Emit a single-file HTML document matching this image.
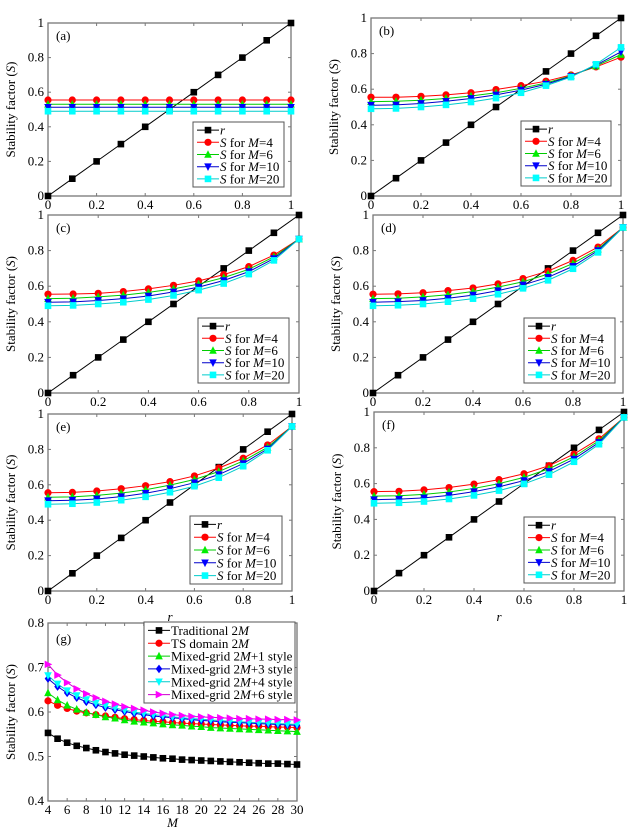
<!DOCTYPE html>
<html><head><meta charset="utf-8"><style>
body{margin:0;background:#fff;}
svg{display:block;font-family:"Liberation Serif",serif;}
</style></head><body>
<svg id="fig" width="635" height="833" viewBox="0 0 635 833" xmlns="http://www.w3.org/2000/svg"></svg>
<script>
const rVals=[0,0.1,0.2,0.3,0.4,0.5,0.6,0.7,0.8,0.9,1];
const aM4=[.555,.555,.555,.555,.555,.555,.555,.555,.555,.555,.555];
const aM6=[.53,.53,.53,.53,.53,.53,.53,.53,.53,.53,.53];
const aM10=[.513,.513,.513,.513,.513,.513,.513,.513,.513,.513,.513];
const aM20=[.49,.49,.49,.49,.49,.49,.49,.49,.49,.49,.49];
const bM4=[.555,.555,.56,.568,.58,.598,.62,.645,.68,.725,.78];
const bM6=[.53,.532,.538,.548,.562,.58,.605,.635,.675,.73,.795];
const bM10=[.51,.512,.52,.532,.548,.568,.595,.628,.672,.735,.81];
const bM20=[.49,.492,.5,.512,.528,.55,.58,.62,.668,.74,.835];
const cM4=[.555,.556,.56,.57,.585,.605,.63,.665,.71,.775,.865];
const cM6=[.53,.532,.54,.55,.565,.585,.612,.648,.695,.765,.865];
const cM10=[.51,.512,.52,.53,.545,.568,.595,.632,.682,.755,.865];
const cM20=[.49,.492,.5,.51,.525,.548,.578,.615,.668,.745,.865];
const dM4=[.555,.557,.563,.575,.59,.613,.643,.685,.745,.82,.93];
const dM6=[.53,.532,.54,.552,.57,.595,.625,.668,.728,.808,.93];
const dM10=[.51,.513,.52,.532,.55,.575,.607,.65,.712,.8,.93];
const dM20=[.49,.493,.5,.513,.53,.555,.588,.633,.698,.79,.93];
const eM4=[.555,.557,.565,.578,.595,.618,.65,.695,.75,.825,.93];
const eM6=[.53,.532,.54,.553,.572,.598,.63,.675,.735,.812,.93];
const eM10=[.51,.513,.52,.533,.552,.578,.612,.658,.72,.803,.93];
const eM20=[.49,.493,.5,.513,.532,.558,.592,.64,.705,.795,.93];
const fM4=[.555,.557,.565,.578,.597,.622,.655,.7,.765,.85,.97];
const fM6=[.53,.532,.54,.553,.573,.6,.635,.683,.75,.84,.97];
const fM10=[.51,.513,.52,.534,.555,.582,.617,.668,.737,.83,.97];
const fM20=[.49,.493,.5,.514,.534,.561,.598,.65,.722,.82,.97];
const xTicks=[0,0.2,0.4,0.6,0.8,1];
const yTicks=[0,0.2,0.4,0.6,0.8,1];
const gM=[4,5,6,7,8,9,10,11,12,13,14,15,16,17,18,19,20,21,22,23,24,25,26,27,28,29,30];
const gTrad=[.553,.54,.531,.524,.519,.514,.51,.507,.504,.502,.5,.498,.496,.495,.493,.492,.491,.49,.489,.488,.487,.486,.485,.484,.484,.483,.482];
const gTS=[.625,.615,.608,.602,.598,.594,.591,.588,.585,.583,.581,.579,.578,.576,.575,.574,.573,.572,.571,.57,.569,.568,.568,.567,.566,.566,.565];
const gP1=[.643,.627,.615,.606,.599,.594,.589,.586,.582,.579,.577,.575,.573,.571,.57,.568,.567,.565,.564,.563,.562,.561,.56,.559,.558,.557,.556];
const gP3=[.675,.657,.643,.632,.623,.616,.61,.605,.601,.597,.594,.591,.589,.587,.585,.583,.581,.58,.578,.577,.576,.575,.574,.573,.572,.571,.57];
const gP4=[.682,.663,.648,.637,.628,.62,.614,.609,.604,.6,.597,.594,.592,.589,.587,.585,.584,.582,.581,.579,.578,.577,.576,.575,.574,.573,.572];
const gP6=[.707,.683,.666,.652,.641,.632,.624,.618,.612,.608,.604,.6,.597,.594,.592,.59,.589,.588,.587,.586,.585,.585,.584,.584,.583,.583,.582];
const gXTicks=[4,6,8,10,12,14,16,18,20,22,24,26,28,30];
const gYTicks=[0.4,0.5,0.6,0.7,0.8];

const NS="http://www.w3.org/2000/svg";
const svg=document.getElementById('fig');
function mk(tag,attrs,parent){const e=document.createElementNS(NS,tag);for(const k in attrs)e.setAttribute(k,attrs[k]);(parent||svg).appendChild(e);return e;}
const COL={k:'#000',r:'#f00',g:'#0e0',b:'#00f',c:'#0ff',m:'#f0f'};
const SCOL={k:'#000',r:'#f00',g:'#0c0',b:'#00c',c:'#0cc',m:'#c0c'};
function marker(g,type,x,y,c){
  const s=3.3;let e;
  if(type==='s')e=mk('rect',{x:x-s,y:y-s,width:2*s,height:2*s,fill:c},g);
  else if(type==='o')e=mk('circle',{cx:x,cy:y,r:s+0.3,fill:c},g);
  else if(type==='^')e=mk('polygon',{points:`${x},${y-s-1} ${x-s-0.5},${y+s} ${x+s+0.5},${y+s}`,fill:c},g);
  else if(type==='v')e=mk('polygon',{points:`${x},${y+s+1} ${x-s-0.5},${y-s} ${x+s+0.5},${y-s}`,fill:c},g);
  else if(type==='d')e=mk('polygon',{points:`${x},${y-s-1} ${x+s},${y} ${x},${y+s+1} ${x-s},${y}`,fill:c},g);
  else if(type==='>')e=mk('polygon',{points:`${x+s+1},${y} ${x-s},${y-s-0.5} ${x-s},${y+s+0.5}`,fill:c},g);
  
  
}
function series(g,xs,ys,sx,sy,col,type,name){
  const sg=mk('g',{},g);
  
  
  mk('polyline',{points:xs.map((v,i)=>sx(v)+','+sy(ys[i])).join(' '),fill:'none',stroke:SCOL[col],'stroke-width':1},sg);
  xs.forEach((v,i)=>marker(sg,type,sx(v),sy(ys[i]),COL[col]));
}
function axes(g,L,R,T,B,sx,sy,xt,yt,xfmt,yfmt,name){
  const ag=mk('g',{},g);
  
  
  mk('rect',{x:L,y:T,width:R-L,height:B-T,fill:'none',stroke:'#777','stroke-width':1.3},ag);
  xt.forEach(v=>{const x=sx(v);
    mk('line',{x1:x,y1:B,x2:x,y2:B-3,stroke:'#777'},ag);mk('line',{x1:x,y1:T,x2:x,y2:T+3,stroke:'#777'},ag);
    const t=mk('text',{x:x,y:B+13,'text-anchor':'middle','font-size':13},ag);t.textContent=xfmt(v);
    });
  yt.forEach(v=>{const y=sy(v);
    mk('line',{x1:L,y1:y,x2:L+3,y2:y,stroke:'#777'},ag);mk('line',{x1:R,y1:y,x2:R-3,y2:y,stroke:'#777'},ag);
    const t=mk('text',{x:L-4,y:y+4,'text-anchor':'end','font-size':13},ag);t.textContent=yfmt(v);
    });
}
function ylabel(g,x,y){
  const t=mk('text',{x:x,y:y,'text-anchor':'middle','font-size':13,transform:`rotate(-90 ${x} ${y})`},g);
  t.innerHTML='Stability factor (<tspan font-style="italic">S</tspan>)';
  
}
function legend(g,x0,y0,w,h,items){
  const lg=mk('g',{},g);
  
  
  mk('rect',{x:x0,y:y0,width:w,height:h,fill:'#fff',stroke:'#555','stroke-width':1},lg);
  const step=(h-4)/items.length;
  items.forEach((it,i)=>{
    const y=y0+2+step*(i+0.5);
    const eg=mk('g',{},lg);
    
    
    mk('line',{x1:x0+4,y1:y,x2:x0+26,y2:y,stroke:SCOL[it[0]]},eg);
    marker(eg,it[1],x0+15,y,COL[it[0]]);
    const t=mk('text',{x:x0+27,y:y+4.5,'font-size':13},eg);t.innerHTML=it[2];
  });
}
const fmt=v=>(v===0?'0':v===1?'1':String(v));
const items=[['k','s','<tspan font-style="italic">r</tspan>'],['r','o','<tspan font-style="italic">S</tspan> for <tspan font-style="italic">M</tspan>=4'],['g','^','<tspan font-style="italic">S</tspan> for <tspan font-style="italic">M</tspan>=6'],['b','v','<tspan font-style="italic">S</tspan> for <tspan font-style="italic">M</tspan>=10'],['c','s','<tspan font-style="italic">S</tspan> for <tspan font-style="italic">M</tspan>=20']];
const panels=[
 {id:'a',L:48,R:291,T:23,B:196,d:[aM4,aM6,aM10,aM20],lg:[193,122,91,65],rl:false},
 {id:'b',L:371,R:621,T:18,B:196,d:[bM4,bM6,bM10,bM20],lg:[521,121,90,65],rl:false},
 {id:'c',L:48,R:299,T:215,B:393,d:[cM4,cM6,cM10,cM20],lg:[198,318,91,65],rl:false},
 {id:'d',L:373,R:623,T:215,B:393,d:[dM4,dM6,dM10,dM20],lg:[524,318,91,65],rl:false},
 {id:'e',L:48,R:292,T:414,B:591,d:[eM4,eM6,eM10,eM20],lg:[190,516,92,68],rl:true},
 {id:'f',L:374,R:624,T:412,B:591,d:[fM4,fM6,fM10,fM20],lg:[524,517,91,66],rl:true}
];
panels.forEach(p=>{
  const g=mk('g',{});
  
  
  const sx=v=>p.L+(p.R-p.L)*v, sy=v=>p.B-(p.B-p.T)*v;
  axes(g,p.L,p.R,p.T,p.B,sx,sy,xTicks,yTicks,fmt,fmt,'panel-'+p.id);
  ylabel(g,p.L-33,(p.T+p.B)/2);
  const lb=mk('text',{x:p.L+8,y:p.T+17,'font-size':13},g);lb.textContent='('+p.id+')';
  
  series(g,rVals,rVals,sx,sy,'k','s','series-r');
  series(g,rVals,p.d[0],sx,sy,'r','o','series-m4');
  series(g,rVals,p.d[1],sx,sy,'g','^','series-m6');
  series(g,rVals,p.d[2],sx,sy,'b','v','series-m10');
  series(g,rVals,p.d[3],sx,sy,'c','s','series-m20');
  legend(g,p.lg[0],p.lg[1],p.lg[2],p.lg[3],items);
  if(p.rl){const t=mk('text',{x:(p.L+p.R)/2,y:p.B+30,'text-anchor':'middle','font-size':13,'font-style':'italic'},g);t.textContent='r';
    }
});
// panel g
(function(){
  const L=48,R=297,T=623,B=801;
  const g=mk('g',{});
  
  
  const sx=v=>L+(R-L)*(v-4)/26, sy=v=>B-(B-T)*(v-0.4)/0.4;
  axes(g,L,R,T,B,sx,sy,gXTicks,gYTicks,v=>String(v),v=>String(v),'panel-g');
  ylabel(g,15,(T+B)/2);
  const lb=mk('text',{x:L+8,y:T+20,'font-size':13},g);lb.textContent='(g)';
  
  series(g,gM,gTrad,sx,sy,'k','s','series-traditional');
  series(g,gM,gTS,sx,sy,'r','o','series-ts-domain');
  series(g,gM,gP1,sx,sy,'g','^','series-mixed-2m1');
  series(g,gM,gP3,sx,sy,'b','d','series-mixed-2m3');
  series(g,gM,gP4,sx,sy,'c','v','series-mixed-2m4');
  series(g,gM,gP6,sx,sy,'m','>','series-mixed-2m6');
  const M='<tspan font-style="italic">M</tspan>';
  legend(g,144,622,151,81,[['k','s','Traditional 2'+M],['r','o','TS domain 2'+M],['g','^','Mixed-grid 2'+M+'+1 style'],['b','d','Mixed-grid 2'+M+'+3 style'],['c','v','Mixed-grid 2'+M+'+4 style'],['m','>','Mixed-grid 2'+M+'+6 style']]);
  const t=mk('text',{x:(L+R)/2,y:B+26,'text-anchor':'middle','font-size':13,'font-style':'italic'},g);t.textContent='M';
  
})();
</script>
</body></html>
